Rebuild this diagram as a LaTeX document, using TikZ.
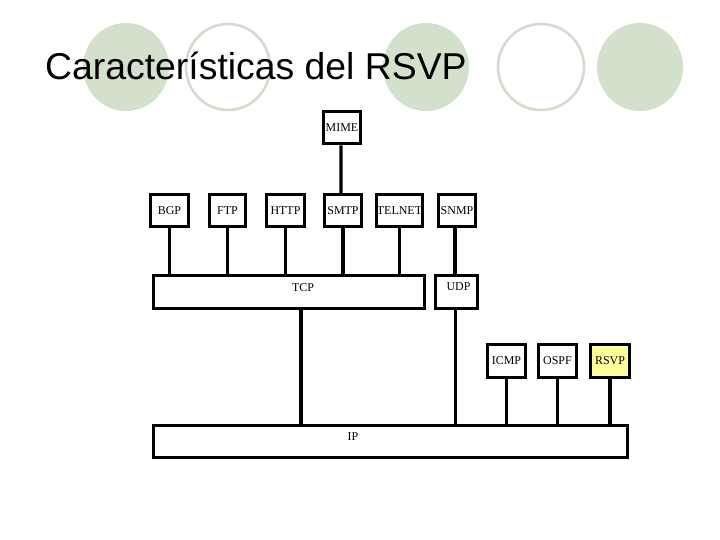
\documentclass[tikz,border=0pt]{standalone}
\usepackage{fontspec}
\setmainfont{Liberation Serif}
\newfontfamily\titlefont{Liberation Sans}
\definecolor{sage}{HTML}{D2E0CC}
\definecolor{sageline}{HTML}{D3DDCD}
\definecolor{paleyellow}{HTML}{FFFF99}
\tikzset{
  proto/.style={draw,line width=3bp,inner sep=0pt,minimum height=32bp,
    font=\fontsize{12}{14}\selectfont},
  layertext/.style={font=\fontsize{12}{14}\selectfont},
  wire/.style={line width=3.4bp},
}

\begin{document}
\begin{tikzpicture}[x=1bp,y=-1bp]
 \useasboundingbox (0,0) rectangle (720,540);
 % decoration of the slide
 \fill[sage] (126,67) ellipse [x radius=43,y radius=44];
 \fill[sage] (426,67) ellipse [x radius=43,y radius=44];
 \fill[sage] (640,67) ellipse [x radius=43,y radius=44];
 \draw[sageline,line width=2.6bp] (228,67) ellipse [x radius=42,y radius=43];
 \draw[sageline,line width=2.6bp] (541,67) ellipse [x radius=43,y radius=43];
 \node[anchor=base west,inner sep=0pt,font=\titlefont\fontsize{37.5}{44}\selectfont] (title) at (45,80) {Características del RSVP};
 % application layer
 \node[proto,minimum width=37bp] (mime) at (342,128) {MIME};
 \node[proto,minimum width=38bp] (bgp) at (169.5,210.5) {BGP};
 \node[proto,minimum width=36bp] (ftp) at (227.5,210.5) {FTP};
 \node[proto,minimum width=38bp] (http) at (285.5,210.5) {HTTP};
 \node[proto,minimum width=37bp] (smtp) at (343,210.5) {SMTP};
 \node[proto,minimum width=44bp] (telnet) at (399.5,210.5) {TELNET};
 \node[proto,minimum width=37bp] (snmp) at (457,210.5) {SNMP};
 % transport layer
 \node[proto,minimum width=271bp,minimum height=33bp,label={[layertext,xshift=14bp,yshift=4bp]center:TCP}] (tcp) at (289,292) {};
 \node[proto,minimum width=42bp,minimum height=33bp,label={[layertext,yshift=5bp,xshift=2bp]center:UDP}] (udp) at (456.5,292) {};
 % network layer
 \node[proto,minimum width=38bp,minimum height=33bp] (icmp) at (506.5,361) {ICMP};
 \node[proto,minimum width=38bp,minimum height=33bp] (ospf) at (557.5,361) {OSPF};
 \node[proto,minimum width=39bp,minimum height=33bp,fill=paleyellow] (rsvp) at (610,361) {RSVP};
 \node[proto,minimum width=474bp,minimum height=32bp,label={[layertext,xshift=-37.5bp,yshift=4.5bp]center:IP}] (ip) at (390.5,441.5) {};

 \draw[wire] ([xshift=-1bp]mime.south) -- ([xshift=-2bp]smtp.north);
 \foreach \p in {bgp,ftp,http,smtp,telnet}
   \draw[wire] (\p.south) -- (\p.south |- tcp.north);
 \draw[wire] ([xshift=-2bp]snmp.south) -- ([xshift=-2bp]snmp.south |- udp.north);
 \draw[wire] ([xshift=12bp]tcp.south) -- ([xshift=12bp]tcp.south |- ip.north);
 \draw[wire] ([xshift=-1bp]udp.south) -- ([xshift=-1bp]udp.south |- ip.north);
 \foreach \p in {icmp,ospf,rsvp}
   \draw[wire] (\p.south) -- (\p.south |- ip.north);
\end{tikzpicture}
\end{document}
